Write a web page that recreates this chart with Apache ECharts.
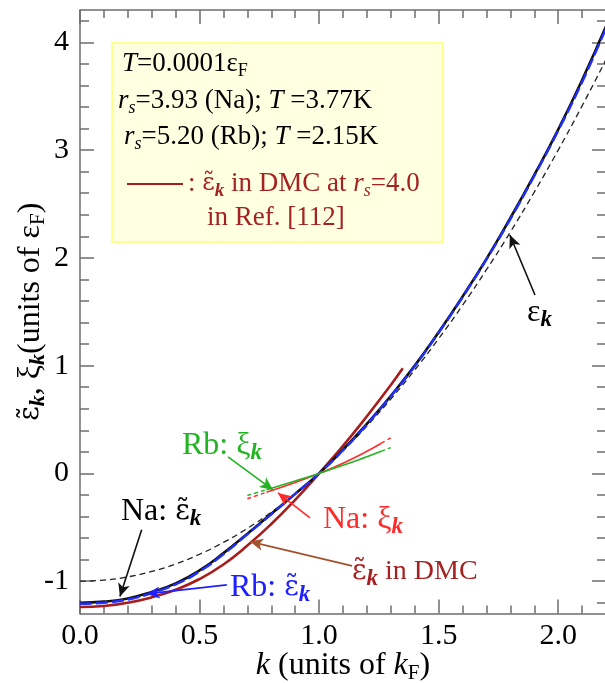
<!DOCTYPE html>
<html><head><meta charset="utf-8">
<script src="https://cdn.jsdelivr.net/npm/echarts@6/dist/echarts.min.js"></script>
<style>html,body{margin:0;padding:0;background:#fff}#c{width:605px;height:683px}</style>
</head><body><div id="c"></div>
<script>
// ---- data ----
const kMain   = [0,0.1,0.2,0.3,0.4,0.5,0.6,0.7,0.8,0.9,1.0,1.1,1.2,1.3,1.4,1.5,1.6,1.7,1.8,1.9,2.0,2.1,2.2];
const freeEps = [-1,-0.99,-0.96,-0.91,-0.84,-0.75,-0.64,-0.51,-0.36,-0.19,0,0.21,0.44,0.69,0.96,1.25,1.56,1.89,2.24,2.61,3.0,3.41,3.84];
const naEps   = [-1.20,-1.19,-1.16,-1.10,-1.02,-0.90,-0.74,-0.56,-0.375,-0.19,0,0.22,0.46,0.72,1.00,1.31,1.64,1.99,2.37,2.77,3.19,3.65,4.15];
const rbEps   = [-1.21,-1.20,-1.17,-1.11,-1.03,-0.91,-0.75,-0.565,-0.38,-0.19,0,0.215,0.455,0.715,0.995,1.305,1.635,1.985,2.36,2.76,3.18,3.63,4.13];
const kDMC    = [0,0.1,0.2,0.3,0.4,0.5,0.6,0.7,0.8,0.9,1.0,1.1,1.2,1.3,1.35];
const dmcEps  = [-1.24,-1.23,-1.20,-1.15,-1.08,-0.98,-0.845,-0.67,-0.47,-0.245,0,0.255,0.53,0.82,0.975];
const kXi     = [0.7,0.78,0.9,1.0,1.1,1.2,1.26,1.3];
const naXi    = [-0.235,-0.175,-0.085,0,0.095,0.205,0.28,0.33];
const rbXi    = [-0.205,-0.151,-0.07,0,0.075,0.155,0.205,0.24];
const xMajor  = [0,0.5,1.0,1.5,2.0];
const xMinor  = [0.1,0.2,0.3,0.4,0.6,0.7,0.8,0.9,1.1,1.2,1.3,1.4,1.6,1.7,1.8,1.9,2.1];
const yMajor  = [-1,0,1,2,3,4];
const yMinor  = [-1.2,-0.8,-0.6,-0.4,-0.2,0.2,0.4,0.6,0.8,1.2,1.4,1.6,1.8,2.2,2.4,2.6,2.8,3.2,3.4,3.6,3.8,4.2];

const FF = "'Liberation Serif','DejaVu Serif',serif";
const FT = "'DejaVu Serif',serif"; // for epsilon with combining tilde
const pairs = (xs, ys, a, b) => xs.slice(a, b).map((x, i) => [x, ys[a + i]]);

const AX = '#6e6e6e';
function xAx(pos, major, showLabel) {
  return {
    type: 'value', min: 0, max: 2.2, position: pos,
    axisLine: { show: major, onZero: false, lineStyle: { color: AX, width: 1.5 } },
    axisTick: { inside: true, length: major ? 14 : 8, customValues: major ? xMajor : xMinor, lineStyle: { color: AX, width: 1.5 } },
    axisLabel: { show: !!showLabel, customValues: xMajor, formatter: v => v.toFixed(1), fontFamily: FF, fontSize: 30, color: '#000', margin: 8 },
    splitLine: { show: false }
  };
}
function yAx(pos, major, showLabel) {
  return {
    type: 'value', min: -1.3, max: 4.3, position: pos,
    axisLine: { show: major, onZero: false, lineStyle: { color: AX, width: 1.5 } },
    axisTick: { inside: true, length: major ? 14 : 9, customValues: major ? yMajor : yMinor, lineStyle: { color: AX, width: 1.5 } },
    axisLabel: { show: !!showLabel, customValues: yMajor, formatter: v => String(v), fontFamily: FF, fontSize: 30, color: '#000', margin: 11 },
    splitLine: { show: false }
  };
}
const xa = [xAx('bottom', true, true), xAx('bottom', false), xAx('top', true), xAx('top', false)];
xa[0].name = '{i|k}{n| (units of }{i|k}{s|F}{n|)}';
xa[0].nameLocation = 'middle';
xa[0].nameGap = 34;
xa[0].nameMoveOverlap = false;
xa[0].nameTextStyle = { fontFamily: FF, color: '#000', rich: {
  i: { fontFamily: FF, fontSize: 32, fontStyle: 'italic', color: '#000', lineHeight: 36 },
  n: { fontFamily: FF, fontSize: 32, color: '#000', lineHeight: 36 },
  s: { fontFamily: FF, fontSize: 21, color: '#000', lineHeight: 20, verticalAlign: 'bottom' } } };
const ya = [yAx('left', true, true), yAx('left', false), yAx('right', true), yAx('right', false)];
ya[0].name = '{t|ε̃}{k|k}{n|, ξ}{k|k}{n|(units of ε}{s|F}{n|)}';
ya[0].nameLocation = 'middle';
ya[0].nameGap = 31;
ya[0].nameMoveOverlap = false;
ya[0].nameTextStyle = { fontFamily: FF, color: '#000', rich: {
  t: { fontFamily: FT, fontSize: 28, color: '#000', lineHeight: 36 },
  n: { fontFamily: FF, fontSize: 32, color: '#000', lineHeight: 36 },
  k: { fontFamily: FF, fontSize: 22, fontStyle: 'italic', fontWeight: 'bold', color: '#000', lineHeight: 20, verticalAlign: 'bottom' },
  s: { fontFamily: FF, fontSize: 21, color: '#000', lineHeight: 20, verticalAlign: 'bottom' } } };

const lineS = (name, data, color, width, type, z) => ({
  name, type: 'line', data, xAxisIndex: 0, yAxisIndex: 0, smooth: true, showSymbol: false, symbol: 'none',
  lineStyle: { color, width, type: type || 'solid' }, z: z || 2, silent: true
});

const arrows = [
  { from: [1.903, 1.656], to: [1.798, 2.212], c: '#111' },
  { from: [0.619, 0.153], to: [0.807, -0.153], c: '#22b422' },
  { from: [0.962, -0.413], to: [0.828, -0.181], c: '#ff2a2a' },
  { from: [0.258, -0.524], to: [0.167, -1.143], c: '#111' },
  { from: [0.614, -1.034], to: [0.279, -1.118], c: '#2020ff' },
  { from: [1.138, -0.858], to: [0.711, -0.633], c: '#a0522d' }
];

const series = [
  lineS('free', pairs(kMain, freeEps, 0, kMain.length), '#222', 1.3, [6, 4], 1),
  lineS('dmc', pairs(kDMC, dmcEps, 0, kDMC.length), '#a81c1c', 2.6, null, 2),
  lineS('na', pairs(kMain, naEps, 0, kMain.length), '#111', 2.6, null, 3),
  lineS('rb', pairs(kMain, rbEps, 0, kMain.length), '#1f2fff', 2.4, [12, 4], 4),
  lineS('naXiL', pairs(kXi, naXi, 0, 2), '#ff2a2a', 1.4, [4, 3], 5),
  lineS('naXi', pairs(kXi, naXi, 1, 7), '#ff2a2a', 1.6, null, 5),
  lineS('naXiR', pairs(kXi, naXi, 6, 8), '#ff2a2a', 1.4, [4, 3], 5),
  lineS('rbXiL', pairs(kXi, rbXi, 0, 2), '#22b422', 1.4, [4, 3], 6),
  lineS('rbXi', pairs(kXi, rbXi, 1, 7), '#22b422', 1.6, null, 6),
  lineS('rbXiR', pairs(kXi, rbXi, 6, 8), '#22b422', 1.4, [4, 3], 6)
];
series[0].markLine = {
  silent: true, symbol: ['none', 'arrow'], symbolSize: [9, 13], animation: false,
  label: { show: false },
  data: arrows.map(a => [
    { coord: a.from, lineStyle: { color: a.c, width: 1.6, type: 'solid' }, itemStyle: { color: a.c } },
    { coord: a.to, itemStyle: { color: a.c } }
  ])
};

const DR = '#a52222';
function rt(x, y, text, fill, size) {
  const sz = size || 32;
  return {
    type: 'text', x, y, z: 100, silent: true,
    style: {
      text, fill, font: sz + 'px ' + FF, verticalAlign: 'middle', align: 'left',
      rich: {
        n: { fontFamily: FF, fontSize: sz, fill, lineHeight: sz + 6 },
        t: { fontFamily: FT, fontSize: Math.round(sz * 0.88), fill, lineHeight: sz + 6 },
        m: { fontFamily: FF, fontSize: sz - 4, fill, lineHeight: sz + 6 },
        i: { fontFamily: FF, fontSize: sz, fontStyle: 'italic', fill, lineHeight: sz + 6 },
        k: { fontFamily: FF, fontSize: Math.round(sz * 0.72), fontStyle: 'italic', fontWeight: 'bold', fill, lineHeight: Math.round(sz * 0.66), verticalAlign: 'bottom' },
        s: { fontFamily: FF, fontSize: Math.round(sz * 0.68), fill, lineHeight: Math.round(sz * 0.62), verticalAlign: 'bottom' },
        si: { fontFamily: FF, fontSize: Math.round(sz * 0.68), fontStyle: 'italic', fill, lineHeight: Math.round(sz * 0.62), verticalAlign: 'bottom' }
      }
    }
  };
}

const graphic = [
  { type: 'rect', shape: { x: 112, y: 43, width: 331, height: 199 }, style: { fill: '#ffffe2', stroke: '#ffff70', lineWidth: 1.5 }, z: 50, silent: true },
  rt(122, 64, '{i|T}{n|=0.0001ε}{s|F}', '#000', 27),
  rt(118, 101, '{i|r}{si|s}{n|=3.93 (Na); }{i|T}{n| =3.77K}', '#000', 27),
  rt(124, 137, '{i|r}{si|s}{n|=5.20 (Rb); }{i|T}{n| =2.15K}', '#000', 27),
  { type: 'line', shape: { x1: 127, y1: 184, x2: 183, y2: 184 }, style: { stroke: '#a81c1c', lineWidth: 2 }, z: 60, silent: true },
  rt(188, 184, '{n|: }{t|ε̃}{k|k}{n| in DMC at }{i|r}{si|s}{n|=4.0}', DR, 27),
  rt(207, 218, '{n|in Ref. [112]}', DR, 27),
  rt(527, 313, '{n|ε}{k|k}', '#000', 32),
  rt(182, 446, '{n|Rb: ξ}{k|k}', '#22b422', 32),
  rt(323, 520, '{n|Na: ξ}{k|k}', '#ff2a2a', 32),
  rt(121, 512, '{n|Na: }{t|ε̃}{k|k}', '#000', 32),
  rt(230, 588, '{n|Rb: }{t|ε̃}{k|k}', '#2020ff', 32),
  rt(352, 572, '{t|ε̃}{k|k}{m| in DMC}', DR, 32)
];

const chart = echarts.init(document.getElementById('c'), null, { renderer: 'canvas' });
chart.setOption({
  animation: false,
  backgroundColor: '#fff',
  grid: { left: 80, top: 10, width: 526, height: 603.5, containLabel: false, outerBoundsMode: 'none' },
  xAxis: xa,
  yAxis: ya,
  series,
  graphic
});
</script>
</body></html>
